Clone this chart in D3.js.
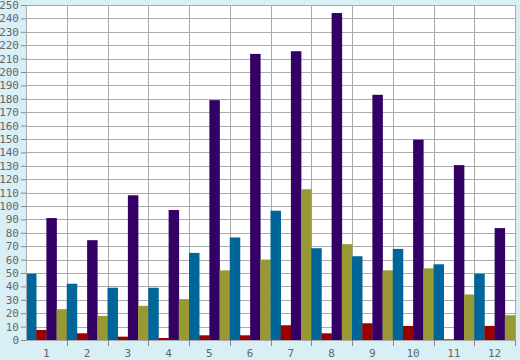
<!DOCTYPE html>
<html><head><meta charset="utf-8">
<script src="https://cdn.jsdelivr.net/npm/d3@7"></script>
<style>html,body{margin:0;padding:0;background:#d9eff6;}svg{display:block;}</style>
</head><body>
<svg id="c" width="520" height="360"></svg>
<script>
const categories = ["1","2","3","4","5","6","7","8","9","10","11","12"];
const seriesNames = ["A","B","C","D"];
const blueVals   = [49.5, 42, 39, 39, 65, 76.5, 96.5, 68.5, 62.5, 68, 56.5, 49.5];
const redVals    = [7.5, 5, 2.5, 1.5, 3.5, 3.5, 11, 5, 12.5, 10.5, 0.5, 10.5];
const purpleVals = [91, 74.5, 108, 97, 179, 213.5, 215.5, 244, 183, 149.5, 130.5, 83.5];
const oliveVals  = [23, 18, 25.5, 30.5, 52, 60, 112.5, 71.5, 52, 53.5, 34, 18.5];
const yTicks = d3.range(0, 251, 10);

const colors = ["#006699", "#990000", "#330066", "#999933"];
const seriesVals = [blueVals, redVals, purpleVals, oliveVals];

const svg = d3.select("#c");
const W = 520, H = 360;
const m = {l: 26, r: 5, t: 5, b: 20};
const x = d3.scaleBand().domain(categories).range([m.l, W - m.r]).padding(0);
const xs = d3.scaleBand().domain(seriesNames).range([0, x.bandwidth()]).padding(0);
const y = d3.scaleLinear().domain([0, 250]).range([H - m.b, m.t]);

svg.append("rect").attr("x", m.l).attr("y", m.t)
  .attr("width", W - m.r - m.l).attr("height", H - m.b - m.t).attr("fill", "#fff");

// horizontal grid
svg.append("g").selectAll("line").data(yTicks).join("line")
  .attr("x1", m.l).attr("x2", W - m.r)
  .attr("y1", d => Math.round(y(d)) + 0.5).attr("y2", d => Math.round(y(d)) + 0.5)
  .attr("stroke", "#aaaaaa");
// vertical grid
svg.append("g").selectAll("line").data(categories).join("line")
  .attr("x1", d => Math.round(x(d) + x.bandwidth()) + 0.5)
  .attr("x2", d => Math.round(x(d) + x.bandwidth()) + 0.5)
  .attr("y1", m.t).attr("y2", H - m.b)
  .attr("stroke", "#aaaaaa");

// bars
const rows = categories.map((c, i) => ({c, vals: seriesVals.map(s => s[i])}));
const g = svg.append("g").selectAll("g").data(rows).join("g")
  .attr("transform", d => `translate(${x(d.c)},0)`);
g.selectAll("rect").data(d => d.vals.map((v, k) => ({k, v}))).join("rect")
  .attr("x", d => xs(seriesNames[d.k]))
  .attr("width", xs.bandwidth() + 0.3)
  .attr("y", d => y(d.v))
  .attr("height", d => y(0) - y(d.v))
  .attr("fill", d => colors[d.k]);

// y axis
const yAxis = svg.append("g").attr("transform", `translate(${m.l},0)`)
  .call(d3.axisLeft(y).tickValues(yTicks).tickSize(5).tickPadding(2));
yAxis.select(".domain").attr("stroke", "#aaaaaa");
yAxis.selectAll(".tick line").attr("stroke", "#888888");
yAxis.selectAll("text").attr("fill", "#666666")
  .style("font-family", "'DejaVu Sans Mono', monospace").style("font-size", "11px");

// x axis
const xAxis = svg.append("g").attr("transform", `translate(0,${H - m.b})`)
  .call(d3.axisBottom(x).tickSize(0).tickPadding(9));
xAxis.select(".domain").attr("stroke", "#aaaaaa");
xAxis.selectAll("text").attr("fill", "#666666")
  .style("font-family", "'DejaVu Sans Mono', monospace").style("font-size", "11px");
svg.append("g").selectAll("line").data(categories).join("line")
  .attr("x1", d => Math.round(x(d) + x.bandwidth()) + 0.5)
  .attr("x2", d => Math.round(x(d) + x.bandwidth()) + 0.5)
  .attr("y1", H - m.b).attr("y2", H - m.b + 6)
  .attr("stroke", "#888888");
</script>
</body></html>
